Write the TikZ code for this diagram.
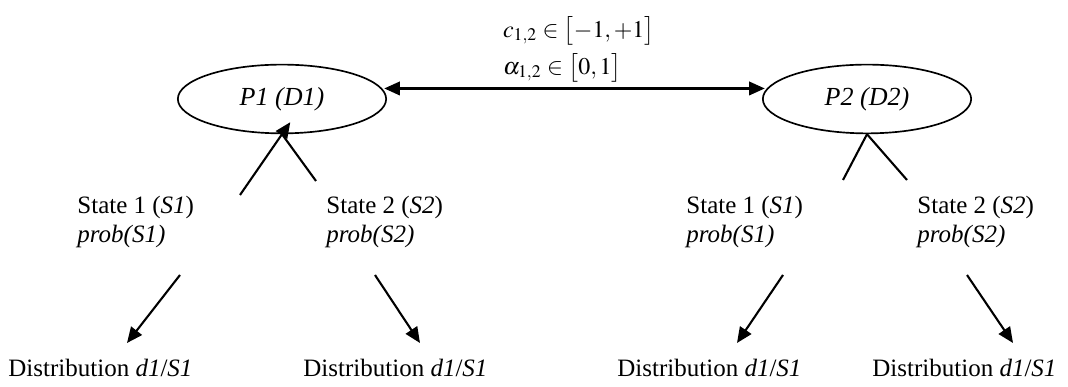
\documentclass[tikz,border=0pt]{standalone}
\usepackage{mathptmx}
\usepackage{fontspec}
\setmainfont{Liberation Serif}
\usetikzlibrary{arrows.meta, positioning, shapes.geometric}

\tikzset{
  txt/.style={font=\fontsize{12}{14}\selectfont, inner sep=0pt},
  party/.style={draw, thick, ellipse, minimum width=100pt, minimum height=33pt,
    inner sep=0pt, font=\fontsize{12.5}{14}\selectfont\itshape},
  arr/.style={line width=1pt, -{Triangle[length=7.5pt, width=6.5pt]}},
  link/.style={line width=1pt}
}

\begin{document}
\begin{tikzpicture}[x=0.48pt, y=-0.48pt]
    \useasboundingbox (0,0) rectangle (1068,387);

    % Parteien
    \node[party] (p1) at (282, 99) {P1 (D1)};
    \node[party] (p2) at (867, 99) {P2 (D2)};

    % Verbindung mit Parametern
    \draw[link, {Triangle[length=7.5pt, width=6.5pt]}-{Triangle[length=7.5pt, width=6.5pt]}]
      ([xshift=1pt]p1.6) -- node[above=-1pt, xshift=2pt, font=\fontsize{11.5}{13}\selectfont, align=left]
      {$c_{1,2}\in\bigl[-1,+1\bigr]$\\[3pt] $\alpha_{1,2}\in\bigl[0,1\bigr]$} ([xshift=-1pt]p2.174);

    % Zustaende P1
    \node[txt, anchor=north west, align=left] (s11) at (77, 196) {State 1 (\textit{S1})\\\textit{prob(S1)}};
    \node[txt, anchor=north west, align=left] (s12) at (326, 196) {State 2 (\textit{S2})\\\textit{prob(S2)}};
    \coordinate (a11) at (240, 195);
    \coordinate (a12) at (316, 181);
    \draw[arr, shorten >=-7pt] (a11) -- (p1.south);
    \draw[link] (a12) -- (p1.south);

    % Zustaende P2
    \node[txt, anchor=north west, align=left] (s21) at (686, 196) {State 1 (\textit{S1})\\\textit{prob(S1)}};
    \node[txt, anchor=north west, align=left] (s22) at (917, 196) {State 2 (\textit{S2})\\\textit{prob(S2)}};
    \coordinate (a21) at (843, 180);
    \coordinate (a22) at (907, 180);
    \draw[link] (a21) -- (p2.south);
    \draw[link] (a22) -- (p2.south);

    % Verteilungen
    \node[txt, anchor=base west] (d11) at (8, 377) {Distribution \textit{d1}/\textit{S1}};
    \node[txt, anchor=base west] (d12) at (303, 377) {Distribution \textit{d1}/\textit{S1}};
    \node[txt, anchor=base west] (d21) at (617, 377) {Distribution \textit{d1}/\textit{S1}};
    \node[txt, anchor=base west] (d22) at (872, 377) {Distribution \textit{d1}/\textit{S1}};

    % Pfeile zu Verteilungen
    \coordinate (b11) at (180, 275); \coordinate (e11) at (127, 343);
    \coordinate (b12) at (375, 275); \coordinate (e12) at (420, 343);
    \coordinate (b21) at (783, 275); \coordinate (e21) at (737, 343);
    \coordinate (b22) at (967, 275); \coordinate (e22) at (1013, 343);
    \draw[arr] (b11) -- (e11);
    \draw[arr] (b12) -- (e12);
    \draw[arr] (b21) -- (e21);
    \draw[arr] (b22) -- (e22);
\end{tikzpicture}
\end{document}
